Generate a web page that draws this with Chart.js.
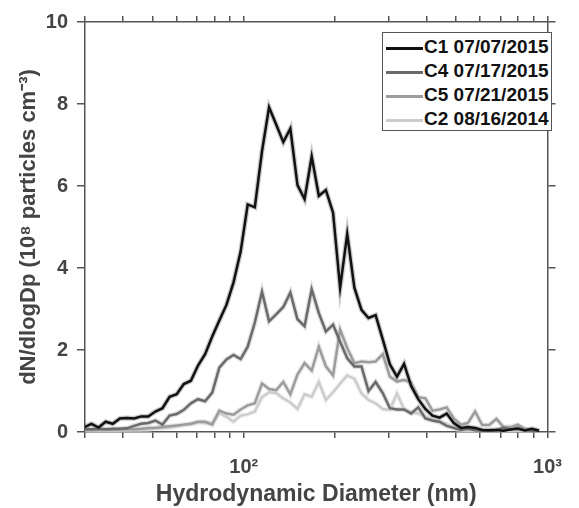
<!DOCTYPE html>
<html><head><meta charset="utf-8">
<script src="https://cdn.jsdelivr.net/npm/chart.js@4.4.1/dist/chart.umd.min.js"></script>
<style>
html,body{margin:0;padding:0;background:#fff;}
#wrap{position:relative;width:579px;height:508px;}
#legend{position:absolute;left:382px;top:32px;width:168px;height:97px;border:1.5px solid #555;background:#fff;}
.row{position:absolute;left:0;height:24px;width:168px;}
.sw{position:absolute;left:3px;top:11px;width:37px;height:2.5px;}
.tx{position:absolute;left:41px;top:0;line-height:24px;font:bold 19px "Liberation Sans",Arial,sans-serif;color:#111;white-space:nowrap;}
</style></head>
<body><div id="wrap"><canvas id="c" width="579" height="508"></canvas><div id="legend"></div></div>
<script>
const diameters=[29.85,31.51,33.25,35.09,37.03,39.08,41.24,43.52,45.93,48.47,51.15,53.98,56.97,60.12,63.44,66.95,70.65,74.56,78.70,83.05,87.65,92.50,97.62,103.0,108.7,114.8,121.1,127.8,134.9,142.3,150.2,158.5,167.3,176.6,186.3,196.7,207.5,219.0,231.2,244.0,257.4,271.6,286.7,302.6,319.3,337.0,355.6,375.3,396.1,418.0,441.1,465.6,491.3,518.4,547.1,577.4,609.3,643.0,678.6,716.2,755.8,797.6,841.8,888.4,937.6];
const c1=[0.12,0.2,0.11,0.25,0.2,0.33,0.34,0.33,0.38,0.38,0.5,0.58,0.86,0.92,1.17,1.25,1.62,1.9,2.33,2.72,3.1,3.65,4.4,5.55,5.48,6.85,7.92,7.5,7.07,7.4,6.02,5.68,6.72,5.76,5.9,5.35,3.52,4.83,3.52,2.98,2.78,2.85,2.26,1.65,1.35,1.66,1.12,0.8,0.56,0.4,0.35,0.45,0.22,0.1,0.12,0.1,0.05,0.04,0.05,0.03,0.06,0.08,0.04,0.08,0.03];
const c4=[0.07,0.07,0.08,0.07,0.08,0.08,0.09,0.15,0.2,0.22,0.28,0.18,0.4,0.44,0.54,0.7,0.8,0.75,0.96,1.57,1.77,1.88,1.78,2.08,2.67,3.42,2.7,2.87,3.05,3.4,2.75,2.58,3.48,2.9,2.45,2.62,2.2,1.8,1.6,1.6,1.0,1.22,0.95,0.58,0.55,0.55,0.45,0.6,0.33,0.28,0.25,0.15,0.1,0.05,0.08,0.04,0.03,0.03,0.05,0.1,0.06,0.1,0.04,0.03,0.02];
const c5=[0.04,0.04,0.05,0.05,0.05,0.06,0.07,0.07,0.08,0.1,0.1,0.12,0.14,0.16,0.18,0.2,0.25,0.25,0.18,0.52,0.45,0.42,0.55,0.65,0.7,1.18,1.05,1.02,1.22,0.92,1.4,1.68,1.5,2.08,1.6,1.38,2.5,2.05,1.68,1.72,1.7,1.72,1.9,1.35,1.23,1.27,1.2,0.85,0.82,0.52,0.55,0.6,0.33,0.18,0.22,0.5,0.17,0.17,0.32,0.12,0.12,0.18,0.08,0.05,0.03];
const c2=[0.02,0.02,0.03,0.03,0.03,0.04,0.04,0.05,0.05,0.06,0.1,0.09,0.11,0.14,0.17,0.19,0.23,0.22,0.22,0.46,0.37,0.25,0.4,0.43,0.5,0.85,0.97,0.95,0.82,0.72,0.56,0.92,0.86,1.22,0.78,0.97,1.18,1.38,1.3,0.94,0.78,0.7,0.56,0.54,0.94,0.56,0.48,0.45,0.38,0.3,0.25,0.2,0.1,0.04,0.02,0.02,0.02,0.02,0.02,0.02,0.02,0.02,0.02,0.02,0.02];
const seriesLabels=['C1 07/07/2015','C4 07/17/2015','C5 07/21/2015','C2 08/16/2014'];
const seriesValues=[c1,c4,c5,c2];
const lineColors=['#111111','#6a6a6a','#9c9c9c','#cdcdcd'];
const haloColors=['rgba(135,135,135,0.45)','rgba(175,175,175,0.4)','rgba(200,200,200,0.4)','rgba(230,230,230,0.5)'];
const yTicks=[0,2,4,6,8,10];
const xTicks=[30,40,50,60,70,80,90,100,200,300,400,500,600,700,800,900,1000];
const xTickLabels={100:'10²',1000:'10³'};

const datasets=[];
seriesValues.forEach((vals,k)=>{
  const pts=diameters.map((d,i)=>({x:d,y:vals[i]}));
  datasets.push({label:seriesLabels[k],data:pts,borderColor:lineColors[k],backgroundColor:lineColors[k],borderWidth:2.5,pointRadius:0,tension:0,order:k,fill:false});
  datasets.push({label:'',data:pts,borderColor:haloColors[k],borderWidth:5,pointRadius:0,tension:0,order:10+k,fill:false});
});

const axisCol='#555';
const txtCol='#444';
const fam='"Liberation Sans", Arial, sans-serif';
const gridBase={drawOnChartArea:false,drawTicks:true,color:axisCol,tickColor:axisCol,tickWidth:1.5,lineWidth:1.5};

new Chart(document.getElementById('c'),{
  type:'line',
  data:{datasets},
  options:{
    responsive:false,animation:false,
    layout:{padding:0},
    plugins:{legend:{display:false},tooltip:{enabled:false}},
    scales:{
      x:{type:'logarithmic',position:'bottom',min:30,max:1000,
        afterBuildTicks:s=>{s.ticks=xTicks.map(v=>({value:v}));},
        afterFit:s=>{s.height=76;},
        grid:{...gridBase,tickLength:6},
        border:{color:axisCol,width:1.5},
        ticks:{autoSkip:false,maxRotation:0,padding:17,color:txtCol,font:{family:fam,size:20,weight:'bold'},callback:v=>xTickLabels[v]||''},
        title:{display:true,text:'Hydrodynamic Diameter (nm)',color:txtCol,font:{family:fam,size:23,weight:'bold'},padding:{top:2,bottom:0}}
      },
      x2:{type:'logarithmic',position:'top',min:30,max:1000,
        afterBuildTicks:s=>{s.ticks=xTicks.map(v=>({value:v}));},
        afterFit:s=>{s.height=22;},
        grid:{...gridBase,tickLength:6},
        border:{color:axisCol,width:1.5},
        ticks:{autoSkip:false,maxRotation:0,padding:0,font:{size:1},callback:()=>''}
      },
      y:{type:'linear',position:'left',min:0,max:10,
        afterBuildTicks:s=>{s.ticks=yTicks.map(v=>({value:v}));},
        afterFit:s=>{s.width=85;},
        grid:{...gridBase,tickLength:8},
        border:{color:axisCol,width:1.5},
        ticks:{padding:9,color:txtCol,font:{family:fam,size:20,weight:'bold'}},
        title:{display:true,align:'center',text:'dN/dlogDp (10⁸ particles cm⁻³)',color:txtCol,font:{family:fam,size:22,weight:'bold'},padding:{top:16,bottom:0}}
      },
      y2:{type:'linear',position:'right',min:0,max:10,
        afterBuildTicks:s=>{s.ticks=yTicks.map(v=>({value:v}));},
        afterFit:s=>{s.width=18;},
        grid:{...gridBase,tickLength:8},
        border:{color:axisCol,width:1.5},
        ticks:{padding:0,font:{size:1},callback:()=>''}
      }
    }
  }
});

const leg=document.getElementById('legend');
seriesLabels.forEach((lab,k)=>{
  const r=document.createElement('div');r.className='row';r.style.top=(3+k*24)+'px';
  const sw=document.createElement('div');sw.className='sw';sw.style.background=lineColors[k];
  const t=document.createElement('div');t.className='tx';t.textContent=lab;
  r.appendChild(sw);r.appendChild(t);leg.appendChild(r);
});
</script>
</body></html>
